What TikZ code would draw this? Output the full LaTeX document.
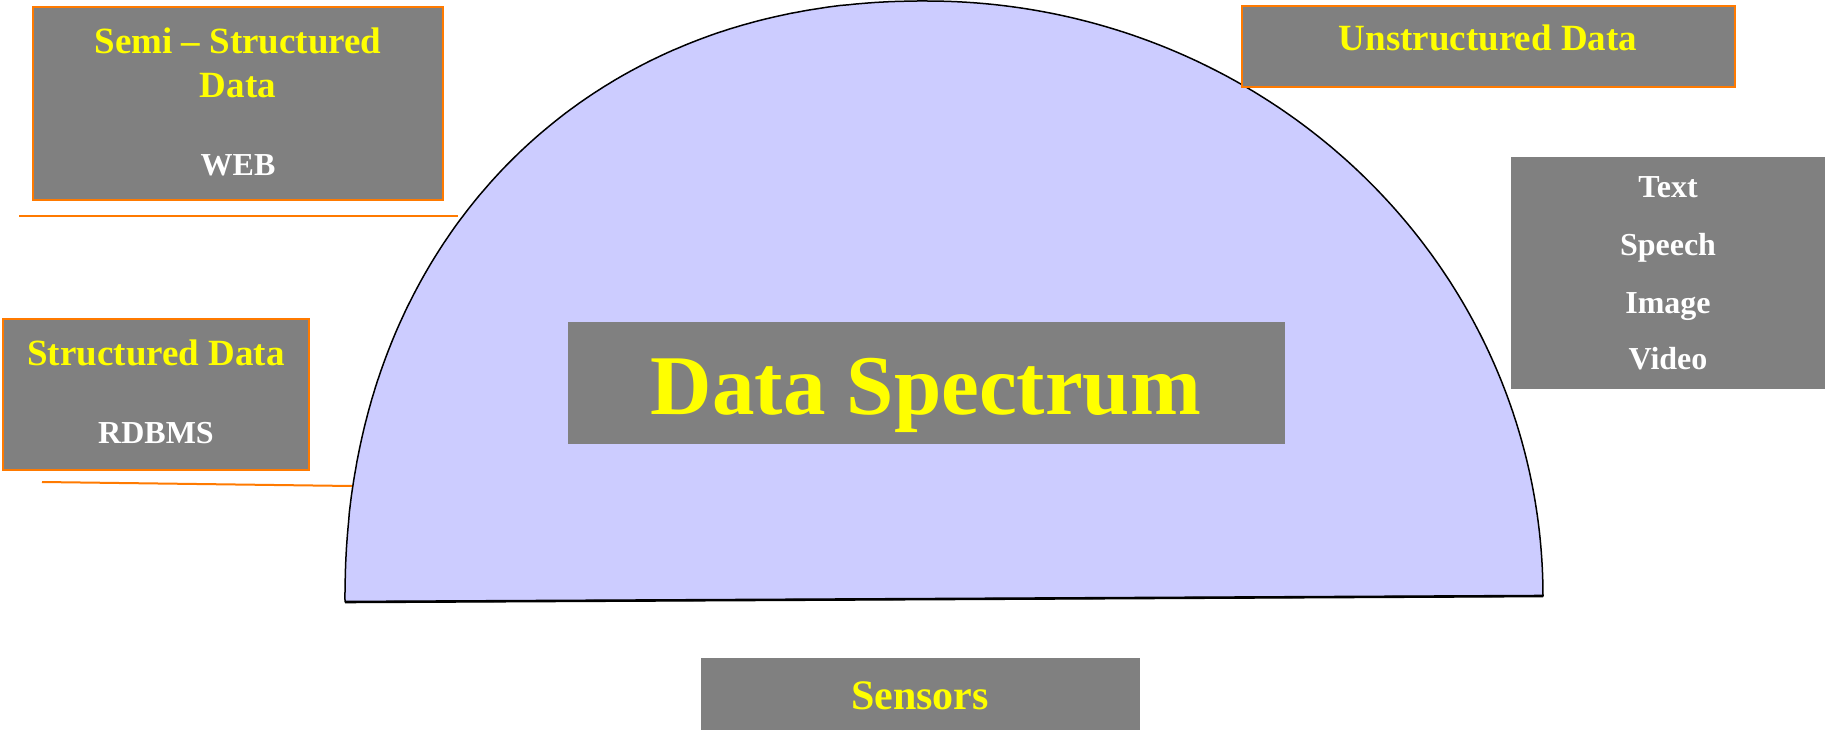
\documentclass[tikz,border=0pt]{standalone}
\usepackage{fontspec}
\setmainfont{Liberation Serif}

\definecolor{spectrum}{HTML}{CCCCFF}
\definecolor{boxgray}{HTML}{808080}
\definecolor{edgeorange}{HTML}{FF7A00}
\definecolor{titleyellow}{HTML}{FFFF00}

\tikzset{
  panel/.style={fill=boxgray, draw=edgeorange, line width=2pt, inner sep=0pt},
  plainpanel/.style={fill=boxgray, draw=none, inner sep=0pt},
  title/.style={anchor=base, text=titleyellow, inner sep=0pt,
                font=\bfseries\fontsize{37}{44}\selectfont},
  item/.style={anchor=base, text=white, inner sep=0pt,
               font=\bfseries\fontsize{32}{38}\selectfont},
  rule/.style={draw=edgeorange, line width=2.6pt},
}

\begin{document}
\begin{tikzpicture}[x=1pt,y=-1pt]
\useasboundingbox (0,0) rectangle (1825,730);

% the half disc: a slightly squarish left quarter and an elliptic right quarter
\coordinate (arcL) at (345,602);
\coordinate (arcR) at (1543,596);
\draw[fill=spectrum, line width=1.5pt, line join=round]
  plot[domain=180:90, samples=150, variable=\t]
    ({927 - 582*pow(max(-cos(\t),0.00001),0.93)},
     {602 - 601*pow(max(sin(\t),0.00001),0.93)})
  -- plot[domain=90:0, samples=150, variable=\t]
    ({927 + 616*cos(\t)}, {596 - 595*sin(\t)})
  -- cycle;
\draw[line width=2.6pt] (arcL) -- (arcR);

% semi-structured
\node[panel, minimum width=410pt, minimum height=193pt] (semi) at (238,103.5) {};
\node[title] (semiA) at (238,54) {Semi – Structured};
\node[title] (semiB) at (238,98) {Data};
\node[item]  (web)   at (238,176) {WEB};
\coordinate (r1a) at (19,216);
\coordinate (r1b) at (458,216);
\draw[rule] (r1a) -- (r1b);

% structured
\node[panel, minimum width=306pt, minimum height=151pt] (struct) at (156,394.5) {};
\node[title] (structT) at (156,365) {Structured Data};
\node[item]  (rdbms)   at (156,443) {RDBMS};
\coordinate (r2a) at (42,482);
\coordinate (r2b) at (352,486);
\draw[rule, line width=2pt] (r2a) -- (r2b);

% unstructured
\node[panel, minimum width=493pt, minimum height=81pt] (unstr) at (1488.5,46.5) {};
\node[title] (unstrT) at (1488,51) {Unstructured Data};

\node[plainpanel, minimum width=314pt, minimum height=232pt] (media) at (1668,273) {};
\node[item] (mText)   at (1668,198) {Text};
\node[item] (mSpeech) at (1668,255) {Speech};
\node[item] (mImage)  at (1668,313) {Image};
\node[item] (mVideo)  at (1668,369) {Video};

% centre title
\node[plainpanel, minimum width=717pt, minimum height=122pt] (spec) at (926.5,383) {};
\node[anchor=base, inner sep=0pt, text=titleyellow,
      font=\bfseries\fontsize{85}{100}\selectfont] (specT) at (926,414) {Data Spectrum};

% sensors
\node[plainpanel, minimum width=439pt, minimum height=74pt] (sens) at (920.5,695) {};
\node[anchor=base, inner sep=0pt, text=titleyellow,
      font=\bfseries\fontsize{42}{50}\selectfont] (sensT) at (920,709) {Sensors};
\end{tikzpicture}
\end{document}
